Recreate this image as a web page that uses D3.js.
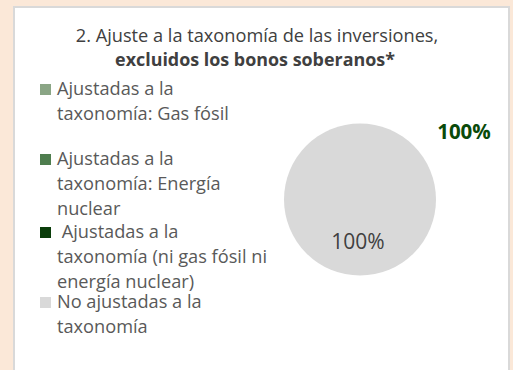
<!DOCTYPE html>
<html>
<head>
<meta charset="utf-8">
<script src="https://cdn.jsdelivr.net/npm/d3@7"></script>
<style>
  html, body { margin: 0; padding: 0; background: #FBE8D8; }
  svg { display: block; }
</style>
</head>
<body>
<svg id="chart" width="513" height="370"></svg>
<script>
// Taxonomy alignment of investments, excluding sovereign bonds
const categories = [
  ["Ajustadas a la", "taxonomía: Gas fósil"],
  ["Ajustadas a la", "taxonomía: Energía", "nuclear"],
  [" Ajustadas a la", "taxonomía (ni gas fósil ni", "energía nuclear)"],
  ["No ajustadas a la", "taxonomía"]
];
const values = [0, 0, 0, 100];
const colors = ["#8AA585", "#4E7D4E", "#0A3D0A", "#D9D9D9"];
const titleLines = ["2. Ajuste a la taxonomía de las inversiones,", "excluidos los bonos soberanos*"];
const alignedTotalLabel = "100%";

const font = "'Open Sans', sans-serif";
const svg = d3.select("#chart");

// Panel
svg.append("rect").attr("x", 13).attr("y", 6).attr("width", 497).attr("height", 370)
  .attr("fill", "#D9D9D9");
svg.append("rect").attr("x", 15).attr("y", 8).attr("width", 493).attr("height", 370)
  .attr("fill", "#FFFFFF");

// Title
const title = svg.append("text").attr("text-anchor", "middle")
  .attr("font-family", font).attr("fill", "#404040").attr("font-size", 18.2);
title.append("tspan").attr("x", 257).attr("y", 42).text(titleLines[0]);
title.append("tspan").attr("x", 255).attr("y", 66).attr("font-size", 17.9)
  .attr("font-weight", "bold").text(titleLines[1]);

// Legend
const legendTop = [84, 154, 227, 297];
const legend = svg.append("g");
categories.forEach((lines, i) => {
  legend.append("rect").attr("x", 40).attr("y", legendTop[i])
    .attr("width", 11).attr("height", 11).attr("fill", colors[i]);
  const t = legend.append("text").attr("font-family", font).attr("font-size", 18.2)
    .attr("fill", "#595959").attr("xml:space", "preserve");
  lines.forEach((ln, j) => {
    t.append("tspan").attr("x", 57).attr("y", legendTop[i] + 10.5 + j * 25.2).text(ln);
  });
});

// Pie
const cx = 360, cy = 199.5, r = 76;
const pie = d3.pie().sort(null).startAngle(0).endAngle(2 * Math.PI)(values);
const arc = d3.arc().innerRadius(0).outerRadius(r);
const g = svg.append("g").attr("transform", `translate(${cx},${cy})`);
g.selectAll("path").data(pie.filter(d => d.value > 0)).join("path")
  .attr("d", arc).attr("fill", d => colors[d.index]);

const total = d3.sum(values);
g.selectAll("text.val").data(pie.filter(d => d.value > 0)).join("text")
  .attr("class", "val").attr("text-anchor", "middle")
  .attr("x", -2).attr("y", 49.5)
  .attr("font-family", font).attr("font-size", 21).attr("fill", "#404040")
  .text(d => d3.format(".0%")(d.value / total));

svg.append("text").attr("x", 464).attr("y", 139).attr("text-anchor", "middle")
  .attr("font-family", font).attr("font-size", 20.5).attr("font-weight", "bold")
  .attr("fill", "#0A4A0A").text(alignedTotalLabel);
</script>
</body>
</html>
